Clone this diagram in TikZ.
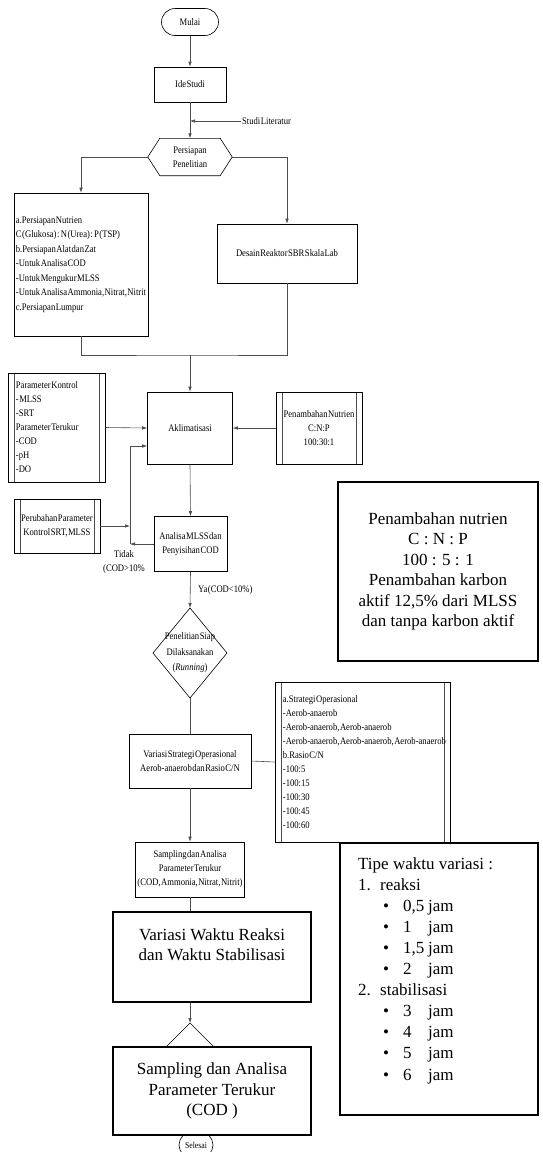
\documentclass[tikz,border=0pt]{standalone}
\usepackage{fontspec}
\setmainfont{Liberation Serif}
\newfontfamily\cnd[FakeStretch=0.86,WordSpace=0.25]{Liberation Serif}
\usetikzlibrary{arrows.meta,shapes.misc}
\newcommand\smf{\cnd\fontsize{10}{14}\selectfont}
\newcommand\bgf{\fontsize{17}{20.5}\selectfont}
\newcommand\itmline[2]{\hspace*{25pt}\makebox[20pt][l]{\textbullet}\makebox[25pt][l]{#1}#2}
\begin{document}
\begin{tikzpicture}[x=1pt,y=-1pt,
  box/.style={draw, line width=0.6pt, inner sep=2pt, font=\smf, align=center},
  tbox/.style={draw, line width=1.4pt, fill=white, inner sep=2pt, font=\bgf, align=center},
  dbl/.style={box, path picture={
      \draw[line width=0.6pt, black!70]
        ([xshift=6pt]path picture bounding box.north west) -- ([xshift=6pt]path picture bounding box.south west)
        ([xshift=-6pt]path picture bounding box.north east) -- ([xshift=-6pt]path picture bounding box.south east);}},
  conn/.style={draw=black!70, line width=0.6pt},
  arr/.style={conn, -{Latex[length=5pt,width=3.5pt]}},
  lbl/.style={font=\smf, inner sep=1pt, align=center}]

\useasboundingbox (0,0) rectangle (542,1152);

% top flow
\node[box, rounded rectangle, minimum width=61, minimum height=27] (mulai) at (190,22) {Mulai};
\node[box, minimum width=72, minimum height=35] (ide) at (190,84.5) {Ide Studi};
\coordinate (litj) at (190,121);
\node[lbl, anchor=west] (lit) at (241,121) {Studi Literatur};
\node[lbl, minimum width=84, minimum height=37] (pers) at (190,157) {Persiapan\\Penelitian};
\draw[line width=0.6pt] (pers.west) -- ([xshift=12pt]pers.north west) -- ([xshift=-12pt]pers.north east)
  -- (pers.east) -- ([xshift=-12pt]pers.south east) -- ([xshift=12pt]pers.south west) -- cycle;

\draw[arr] (mulai.south) -- (ide.north);
\draw[arr] (ide.south) -- (pers.north);
\draw[arr] (lit.west) -- (litj);

% preparation boxes
\node[box, align=left, minimum width=134, minimum height=143, inner xsep=1.5pt,
      font=\smf\fontsize{10}{14.5}\selectfont] (lb) at (81,264.5)
  {a.Persiapan Nutrien\\C (Glukosa) : N (Urea) : P (TSP)\\b.Persiapan Alat dan Zat\\-Untuk Analisa COD\\-Untuk Mengukur MLSS\\-Untuk Analisa Ammonia, Nitrat, Nitrit\\c.Persiapan Lumpur};
\node[box, minimum width=140, minimum height=59] (desain) at (287,253.5) {Desain Reaktor SBR Skala Lab};
\draw[arr] (pers.west) -| (lb.north);
\draw[arr] (pers.east) -| (desain.north);

\coordinate (mj) at (190,355);
\draw[conn] (lb.south) |- (mj) -| (desain.south);

% aklimatisasi
\node[box, minimum width=85, minimum height=72] (akl) at (190,428) {Aklimatisasi};
\draw[arr] (mj) -- (akl.north);
\node[dbl, minimum width=97, minimum height=109] (pk) at (56.5,427.5) {};
\node[lbl, align=left, anchor=west, inner sep=0pt] (pkt) at ([xshift=8pt]pk.west)
  {Parameter Kontrol\\- MLSS\\-SRT\\Parameter Terukur\\-COD\\-pH\\-DO};
\node[dbl, minimum width=86, minimum height=72] (pn) at (319,428) {Penambahan Nutrien\\C:N:P\\100:30:1};
\draw[arr] (pk.east) -- (akl.west);
\draw[arr] (pn.west) -- (akl.east);

% analisa + feedback
\node[dbl, minimum width=86, minimum height=54] (pp) at (57,526) {Perubahan Parameter\\Kontrol SRT, MLSS};
\node[box, minimum width=73, minimum height=55] (ana) at (190.5,544) {Analisa MLSS dan\\Penyisihan COD};
\draw[arr] (akl.south) -- (ana.north);
\coordinate (fb1) at (130,544);
\coordinate (fb2) at (130,446);
\draw[arr] (ana.west) -- (fb1);
\draw[arr] (fb1) -- (fb2) -- (akl.west |- fb2);
\draw[arr] (pp.east) -- (pp.east -| fb1);
\node[lbl] (tidak) at (124,562.5) {Tidak\\(COD>10\%};
\node[lbl, anchor=west] (ya) at (197,590) {Ya (COD<10\%)};

% decision
\coordinate (diatop) at (190,608);
\coordinate (diabot) at (190,698);
\draw[line width=0.6pt] (diatop) -- (227,653) -- (diabot) -- (153,653) -- cycle;
\node[lbl, font=\smf\fontsize{10}{15.5}\selectfont] (dia) at (190,653) {Penelitian Siap\\Dilaksanakan\\(\textit{Running})};
\draw[arr] (ana.south) -- (diatop);

% variasi strategi
\node[box, minimum width=122, minimum height=54] (vs) at (190,761) {Variasi Strategi Operasional\\Aerob-anaerob dan Rasio C/N};
\draw[conn] (diabot) -- (vs.north);
\node[dbl, minimum width=175, minimum height=160] (st) at (362.5,762) {};
\node[lbl, align=left, anchor=west, inner sep=0pt] (stt) at ([xshift=8pt]st.west)
  {a.Strategi Operasional\\-Aerob-anaerob\\-Aerob-anaerob, Aerob-anaerob\\-Aerob-anaerob, Aerob-anaerob, Aerob-anaerob\\b.Rasio C/N\\-100:5\\-100:15\\-100:30\\-100:45\\-100:60};
\draw[conn] (vs.east) -- (st.west);

\node[box, minimum width=108, minimum height=55] (samp1) at (190,869.5)
  {Sampling dan Analisa\\Parameter Terukur\\(COD, Ammonia, Nitrat, Nitrit)};
\draw[arr] (vs.south) -- (samp1.north);

% big boxes
\node[tbox, minimum width=198, minimum height=90] (vw) at (212,957) {Variasi Waktu Reaksi\\dan Waktu Stabilisasi\\[4pt]};
\draw[conn] (samp1.south) -- (samp1.south |- vw.north);
\coordinate (apex) at (190,1023);
\draw[arr] (samp1.south |- vw.south) -- (apex);
\draw[line width=0.6pt] (163,1050) -- (apex) -- (217,1050);

\node[box, rounded rectangle, minimum width=38, minimum height=26,
      font=\smf\fontsize{9}{10}\selectfont] (selesai) at (196,1145) {Selesai};
\node[tbox, minimum width=198, minimum height=88] (samp2) at (212,1091)
  {Sampling dan Analisa\\Parameter Terukur\\(COD )};

% right boxes
\node[tbox, minimum width=200, minimum height=179] (rb1) at (438,571.5)
  {Penambahan nutrien\\C : N : P\\100 : 5 : 1\\Penambahan karbon\\aktif 12,5\% dari MLSS\\dan tanpa karbon aktif};
\node[tbox, minimum width=198, minimum height=272] (rb2) at (439,979) {};
\node[anchor=north west, inner sep=0pt, font=\fontsize{17}{21.1}\selectfont, align=left] (tipe) at (358,857)
  {Tipe waktu variasi :\\
   \makebox[22pt][l]{1.}reaksi\\
   \itmline{0,5}{jam}\\
   \itmline{1}{jam}\\
   \itmline{1,5}{jam}\\
   \itmline{2}{jam}\\
   \makebox[22pt][l]{2.}stabilisasi\\
   \itmline{3}{jam}\\
   \itmline{4}{jam}\\
   \itmline{5}{jam}\\
   \itmline{6}{jam}};
\end{tikzpicture}
\end{document}
